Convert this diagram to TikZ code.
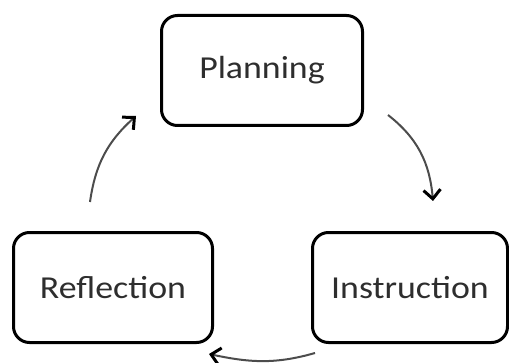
\documentclass[tikz,border=0pt]{standalone}
\usepackage{fontspec}
\newfontfamily\boxfont[FakeStretch=1.12]{Carlito}
\usetikzlibrary{arrows.meta}
\begin{document}
\begin{tikzpicture}[x=1pt,y=1pt,
  stagebox/.style={draw=black, line width=3pt, rounded corners=16pt,
    minimum height=110pt, text=black!82, font=\boxfont\fontsize{32}{36}\selectfont},
  cyclearrow/.style={draw=black!70, line width=2pt,
    -{Straight Barb[length=9pt,width=17pt,line width=3pt,color=black]}}]
  \useasboundingbox (0,0) rectangle (509,362);
  % the three stages of the cycle
  \node[stagebox, minimum width=201pt] (plan) at (262,291.5) {Planning};
  \node[stagebox, minimum width=199pt] (refl) at (113,74.5) {Reflection};
  \node[stagebox, minimum width=195pt] (instr) at (410,74.5) {Instruction};
  % free ends of the curved arrows between stages
  \coordinate (a1s) at (388,247);
  \coordinate (a1e) at (433,161);
  \coordinate (a2s) at (315,9);
  \coordinate (a2e) at (209,8);
  \coordinate (a3s) at (90,160);
  \coordinate (a3e) at (136,246);
  \draw[cyclearrow] (a1s) to[out=-38,in=95] (a1e);
  \draw[cyclearrow] (a2s) to[out=196,in=-12] (a2e);
  \draw[cyclearrow] (a3s) to[out=82,in=-138] (a3e);
\end{tikzpicture}
\end{document}
